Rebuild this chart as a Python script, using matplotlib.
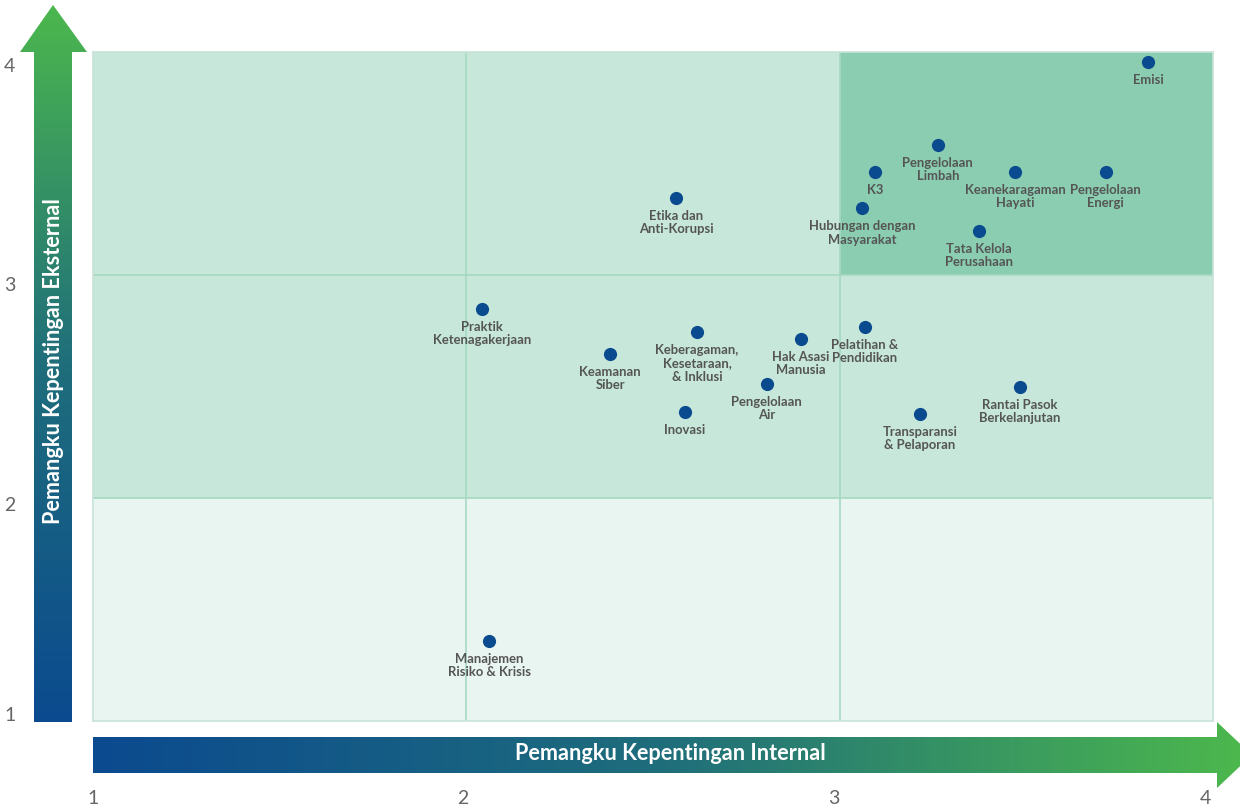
import numpy as np
import matplotlib
matplotlib.use("Agg")
import matplotlib.pyplot as plt
from matplotlib.colors import LinearSegmentedColormap
from matplotlib.patches import Polygon, Rectangle
from matplotlib.transforms import offset_copy

# ---- data ----
topics = ["Emisi", "Pengelolaan\nLimbah", "K3", "Keanekaragaman\nHayati", "Pengelolaan\nEnergi",
          "Hubungan dengan\nMasyarakat", "Tata Kelola\nPerusahaan", "Etika dan\nAnti-Korupsi",
          "Praktik\nKetenagakerjaan", "Keamanan\nSiber", "Keberagaman,\nKesetaraan,\n& Inklusi",
          "Hak Asasi\nManusia", "Pengelolaan\nAir", "Inovasi", "Pelatihan &\nPendidikan",
          "Transparansi\n& Pelaporan", "Rantai Pasok\nBerkelanjutan", "Manajemen\nRisiko & Krisis"]
internal = [3.826, 3.263, 3.095, 3.470, 3.713, 3.060, 3.373, 2.562, 2.042, 2.385, 2.618,
            2.896, 2.805, 2.586, 3.068, 3.215, 3.483, 2.061]
external = [3.955, 3.583, 3.462, 3.462, 3.462, 3.300, 3.197, 3.345, 2.848, 2.646, 2.744,
            2.713, 2.511, 2.386, 2.767, 2.377, 2.498, 1.359]
ticks = [1, 2, 3, 4]
x_title = "Pemangku Kepentingan Internal"
y_title = "Pemangku Kepentingan Eksternal"

W, H = 1240, 811
fig = plt.figure(figsize=(W / 100, H / 100), dpi=100)
fig.patch.set_facecolor("white")

# overlay axes in pixel coordinates for gradient arrows
ov = fig.add_axes([0, 0, 1, 1], zorder=0)
ov.set_xlim(0, W)
ov.set_ylim(H, 0)
ov.axis("off")

cmap = LinearSegmentedColormap.from_list("bg", ["#0b4a8f", "#1f6e7b", "#4cb74d"])

# vertical arrow (blue bottom -> green top)
vpoly = Polygon([(34, 722), (34, 52), (20, 52), (53, 5), (87, 52), (72, 52), (72, 722)],
                closed=True, facecolor="none", edgecolor="none")
ov.add_patch(vpoly)
grad_v = np.linspace(1, 0, 256).reshape(-1, 1)
im = ov.imshow(grad_v, cmap=cmap, extent=(20, 87, 722, 5), aspect="auto", origin="upper",
               interpolation="bilinear")
im.set_clip_path(vpoly)

# horizontal arrow (blue left -> green right)
hpoly = Polygon([(93, 737), (1217, 737), (1217, 722), (1252, 755), (1217, 788), (1217, 773), (93, 773)],
                closed=True, facecolor="none", edgecolor="none")
ov.add_patch(hpoly)
grad_h = np.linspace(0, 1, 256).reshape(1, -1)
im2 = ov.imshow(grad_h, cmap=cmap, extent=(93, 1240, 788, 722), aspect="auto",
                interpolation="bilinear")
im2.set_clip_path(hpoly)

ov.text(670, 754, x_title, color="white", fontsize=15.6, fontfamily="Lato",
        fontweight="bold", ha="center", va="center")
ov.text(54, 361, y_title, color="white", fontsize=15.6, fontfamily="Lato",
        fontweight="bold", ha="center", va="center", rotation=90)

# main axes
ax = fig.add_axes([93 / W, 1 - 721 / H, (1213 - 93) / W, (721 - 52) / H], zorder=2)
ax.set_xlim(1, 4)
ax.set_ylim(1, 4)

# quadrant backgrounds
ax.add_patch(Rectangle((1, 1), 3, 1, facecolor="#e8f5f1", edgecolor="none", zorder=0))
ax.add_patch(Rectangle((1, 2), 3, 2, facecolor="#c6e7d9", edgecolor="none", zorder=0))
ax.add_patch(Rectangle((3, 3), 1, 1, facecolor="#8acdb0", edgecolor="none", zorder=0))
for v in [2, 3]:
    ax.axvline(v, color="#a6d8c1", lw=1.2, zorder=1)
    ax.axhline(v, color="#a6d8c1", lw=1.2, zorder=1)

for s in ax.spines.values():
    s.set_color("#c8e3d8")
    s.set_linewidth(1.2)

ax.scatter(internal, external, s=90, color="#0a4a8f", zorder=3, linewidths=0)
for t, xv, yv in zip(topics, internal, external):
    ax.annotate(t, (xv, yv), xytext=(0, -12), textcoords="offset pixels", ha="center", va="top",
                fontsize=9.4, fontfamily="Lato", fontweight="bold", color="#555555",
                linespacing=1.14, zorder=4)

ax.set_xticks(ticks)
ax.set_yticks(ticks)
ax.set_xticklabels([str(t) for t in ticks])
ax.set_yticklabels([str(t) for t in ticks])
ax.tick_params(axis="both", length=0, labelsize=14, labelcolor="#666666")
ax.tick_params(axis="x", pad=50)
ax.tick_params(axis="y", pad=56)
for lab in ax.get_xticklabels() + ax.get_yticklabels():
    lab.set_fontfamily("Lato")

fig.canvas.draw()
# small shifts of the tick labels, as in the reference
yshifts = [7, -6, -9, -13]
for lab, dy in zip(ax.get_yticklabels(), yshifts):
    lab.set_transform(offset_copy(lab.get_transform(), fig=fig, x=0, y=dy, units="dots"))
xshifts = [0, -4, -6, -8]
for lab, dx in zip(ax.get_xticklabels(), xshifts):
    lab.set_transform(offset_copy(lab.get_transform(), fig=fig, x=dx, y=0, units="dots"))

fig.savefig("out.png", dpi=100, facecolor="white")
